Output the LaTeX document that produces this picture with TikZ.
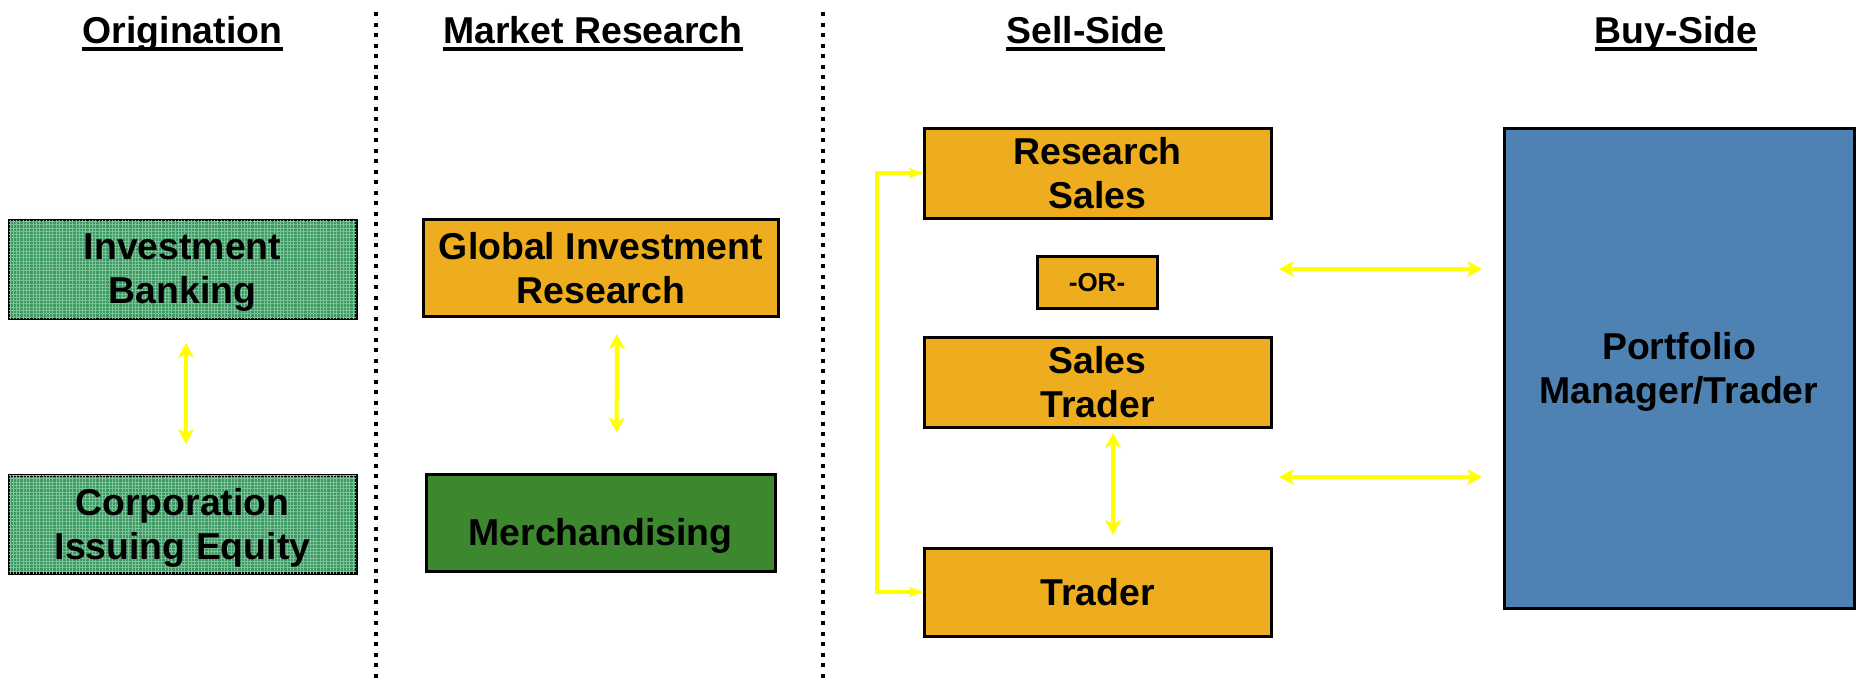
\documentclass[tikz,border=0pt]{standalone}
\usepackage{fontspec}
\setmainfont{Liberation Sans}
\usetikzlibrary{arrows.meta,patterns.meta}

\definecolor{ibgreen}{HTML}{3C9964}
\definecolor{ibgrid}{HTML}{7CC498}
\definecolor{mgreen}{HTML}{3D872F}
\definecolor{gsorange}{HTML}{EDAD1F}
\definecolor{pmblue}{HTML}{4E82B3}
\definecolor{linkyellow}{HTML}{FFFF00}

\tikzset{
  boxbase/.style={draw=black, line width=1.5pt, inner sep=0pt, outer sep=0pt,
    align=center, text depth=0pt, font=\bfseries\fontsize{18.7}{22}\selectfont},
  textured/.style={boxbase, fill=ibgreen,
    postaction={pattern={Hatch[angle=0,distance=1.65pt,line width=0.4pt]}, pattern color=ibgrid}},
  merchbox/.style={boxbase, fill=mgreen},
  salesbox/.style={boxbase, fill=gsorange},
  buybox/.style={boxbase, fill=pmblue},
  orbox/.style={boxbase, fill=gsorange, font=\bfseries\fontsize{13}{15}\selectfont},
  heading/.style={inner sep=0pt, anchor=base, font=\bfseries\fontsize{18.7}{22}\selectfont},
  headrule/.style={line width=1.7pt},
  divider/.style={line width=2pt, dash pattern=on 2pt off 3.25pt},
  link/.style={draw=linkyellow, line width=2pt,
    {Stealth[length=7.5pt,width=8pt,inset=2pt]}-{Stealth[length=7.5pt,width=8pt,inset=2pt]}},
  feed/.style={draw=linkyellow, line width=2pt,
    {Stealth[length=7.5pt,width=5pt,inset=1.5pt]}-{Stealth[length=7.5pt,width=5pt,inset=1.5pt]}},
}

\begin{document}
\begin{tikzpicture}[x=0.5pt,y=-0.5pt]
\useasboundingbox (0,0) rectangle (1856,680);

% column dividers
\coordinate (d1top) at (375.5,12);
\coordinate (d1bot) at (375.5,680);
\coordinate (d2top) at (823,12);
\coordinate (d2bot) at (823,680);
\draw[divider] (d1top) -- (d1bot);
\draw[divider] (d2top) -- (d2bot);

% column headings
\node[heading] (hOrig) at (182.5,43) {Origination};
\node[heading] (hMkt)  at (593,43)   {Market Research};
\node[heading] (hSell) at (1085.5,43) {Sell-Side};
\node[heading] (hBuy)  at (1676,43)  {Buy-Side};
\foreach \h in {hOrig,hMkt,hSell,hBuy}
  \draw[headrule] ([yshift=-3pt]\h.base west) -- ([yshift=-3pt]\h.base east);

% origination
\node[textured, minimum width=173.5pt, minimum height=49pt] (ib)  at (182.5,269) {Investment\\Banking};
\node[textured, minimum width=173.5pt, minimum height=49pt] (cie) at (182.5,524) {Corporation\\Issuing Equity};

% market research
\node[salesbox, minimum width=177.5pt, minimum height=48.5pt] (gir)   at (601,267.5) {Global Investment\\Research};
\node[merchbox, minimum width=174.5pt, minimum height=48.5pt, text height=22pt] (merch) at (600.5,523) {Merchandising};

% sell-side
\node[salesbox, minimum width=173.5pt, minimum height=45pt] (rs)  at (1097.5,173) {Research\\Sales};
\node[orbox,    minimum width=60pt,    minimum height=26pt] (or)  at (1097,282)   {-OR-};
\node[salesbox, minimum width=173.5pt, minimum height=45pt] (st)  at (1097.5,382) {Sales\\Trader};
\node[salesbox, minimum width=173.5pt, minimum height=44pt] (tr)  at (1097.5,592) {Trader};

% buy-side
\node[buybox, minimum width=175pt, minimum height=240pt] (pm) at (1679,368) {Portfolio\\Manager/Trader};

% links
\draw[link, shorten <=12.5pt, shorten >=15.5pt] ([xshift=1.75pt]ib.south) -- ([xshift=1.75pt]cie.north);
\draw[link, shorten <=9pt, shorten >=21pt] ([xshift=8pt]gir.south) -- ([xshift=8pt]merch.north);
\draw[link, shorten <=3pt, shorten >=6.5pt] ([xshift=7.75pt]st.south) -- ([xshift=7.75pt]tr.north);
\draw[feed] (rs.west) -- ++(-47,0) |- (tr.west);

\coordinate (q1) at (1279,269);
\coordinate (q2) at (1279,477);
\draw[link, shorten >=11pt] (q1) -- (pm.west |- q1);
\draw[link, shorten >=11pt] (q2) -- (pm.west |- q2);
\end{tikzpicture}
\end{document}
